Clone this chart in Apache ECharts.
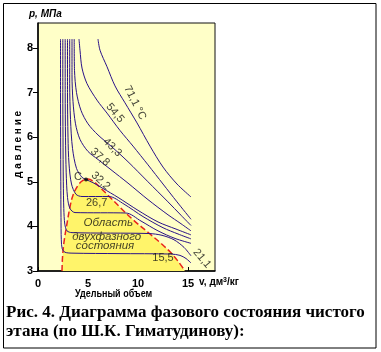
<!DOCTYPE html>
<html><head><meta charset="utf-8">
<script src="https://cdn.jsdelivr.net/npm/echarts@6/dist/echarts.min.js"></script>
<style>html,body{margin:0;padding:0;background:#fff}#c{width:381px;height:352px}</style>
</head><body><div id="c"></div>
<script>
// ---- data (specific volume v, dm3/kg ; pressure p, MPa) ----
const isoTemps = ['15,5','21,1','26,7','29,4','32,2','37,8','43,3','54,5','71,1'];
const iso15_5 = [[2.25,8.2],[2.25,7.0],[2.26,6.0],[2.28,5.0],[2.3,4.2],[2.33,3.7],[2.42,3.5],[2.7,3.42],[3.5,3.4],[8,3.39],[13.3,3.38],[14.2,3.35],[14.8,3.28],[15.3,3.18]];
const iso21_1 = [[2.48,8.2],[2.48,7.0],[2.5,6.0],[2.53,5.0],[2.58,4.4],[2.68,4.05],[2.9,3.9],[3.4,3.86],[11.1,3.84],[12.4,3.8],[13.6,3.7],[14.6,3.53],[15.3,3.34]];
const iso26_7 = [[2.72,8.2],[2.72,7.0],[2.75,6.0],[2.82,5.2],[2.95,4.65],[3.2,4.4],[3.7,4.31],[8.8,4.3],[10.3,4.12],[12,3.9],[13.7,3.73],[15.3,3.62]];
const iso29_4 = [[2.95,8.2],[2.95,7.0],[3.0,6.0],[3.1,5.4],[3.35,4.95],[3.8,4.72],[4.4,4.67],[7.1,4.67],[8.6,4.5],[10.5,4.22],[12.5,3.97],[14,3.83],[15.3,3.72]];
const iso32_2 = [[3.17,8.2],[3.17,7.2],[3.25,6.4],[3.45,5.75],[3.85,5.3],[4.4,5.1],[4.8,5.05],[5.5,4.98],[6.5,4.85],[8,4.65],[10,4.36],[12,4.1],[13.8,3.94],[15.3,3.81]];
const iso37_8 = [[3.4,8.2],[3.4,7.4],[3.5,6.8],[3.75,6.3],[4.2,5.95],[5,5.68],[6,5.5],[7.3,5.27],[9,4.97],[11,4.6],[13,4.26],[14.3,4.06],[15.3,3.9]];
const iso43_3 = [[3.62,8.2],[3.65,7.5],[3.85,7.0],[4.3,6.6],[5,6.3],[6,6.05],[7.3,5.8],[9,5.45],[11,5.0],[13,4.55],[14.3,4.25],[15.3,4.02]];
const iso54_5 = [[4.1,8.2],[4.2,7.95],[4.4,7.55],[4.9,7.2],[5.9,6.83],[6.9,6.54],[8.2,6.15],[9.5,5.8],[11,5.38],[12.5,4.95],[13.9,4.55],[15.3,4.16]];
const iso71_1 = [[6.0,8.2],[6.2,7.95],[6.9,7.58],[7.7,7.15],[8.7,6.77],[9.9,6.32],[11.2,5.8],[12.5,5.33],[13.9,4.95],[15.3,4.66]];
const dome = [[2.4,3.0],[2.45,3.3],[2.6,3.65],[2.85,4.0],[3.2,4.44],[3.5,4.7],[4.0,4.92],[4.5,5.03],[5.0,5.06],[5.6,5.0],[6.3,4.85],[7.0,4.7],[8.2,4.43],[9.5,4.15],[11.2,3.83],[12.3,3.62],[13.2,3.43],[14.0,3.22],[14.7,3.0]];
const criticalPoint = [4.8, 5.05];
const xTicks = [0,2.5,5,7.5,10,12.5,15];
const xTickLabels = [0,5,10,15];
const yTickLabels = [3,4,5,6,7,8];
// annotation texts anchored in data coordinates
const annotations = [
  {text:'71,1 °C', at:[9.7,6.77], rot:-63},
  {text:'54,5', at:[7.7,6.54], rot:-50},
  {text:'43,3', at:[7.43,5.77], rot:-45},
  {text:'37,8', at:[6.2,5.55], rot:-42},
  {text:'32,2', at:[6.27,5.02], rot:-42},
  {text:'26,7', at:[5.87,4.53], rot:0},
  {text:'21,1', at:[16.4,3.28], rot:-50},
  {text:'15,5', at:[12.5,3.3], rot:0}
];
const regionText = [
  {text:'Область', at:[7.03,4.07]},
  {text:'двухфазного', at:[6.87,3.76]},
  {text:'состояния', at:[6.7,3.56]}
];

const isoSets = [iso15_5, iso21_1, iso26_7, iso29_4, iso32_2, iso37_8, iso43_3, iso54_5, iso71_1];
const lineColor = '#2a1288';

const series = [];
series.push({
  type:'line', name:'dome', data: dome, showSymbol:false, smooth:0.35, z:1,
  lineStyle:{color:'#e8231c', width:1.5, type:[6,3]},
  areaStyle:{color:'#fff46a', opacity:1, origin:'start'}
});
isoSets.forEach((d,i)=>{
  series.push({type:'line', name:isoTemps[i], data:d, showSymbol:false, smooth:0.3, z:3,
    lineStyle:{color:lineColor, width:1}});
});
series.push({
  type:'scatter', z:5, symbolSize:0,
  data: annotations.map(a=>({value:a.at, label:{show:true, formatter:a.text, rotate:a.rot, position:'inside',
    color:'#111', fontSize:11, fontFamily:'Liberation Sans'}}))
});
series.push({
  type:'scatter', z:5, symbolSize:0,
  data: regionText.map(a=>({value:a.at, label:{show:true, formatter:a.text, position:'inside',
    color:'#111', fontSize:11.5, fontStyle:'italic', fontFamily:'Liberation Sans'}}))
});
series.push({
  type:'scatter', z:6, symbol:'circle', symbolSize:4, itemStyle:{color:'#000'},
  data:[{value:criticalPoint, label:{show:true, formatter:'С', position:'left', distance:2, offset:[0,-3],
    color:'#111', fontSize:11, fontFamily:'Liberation Sans'}}]
});

const chart = echarts.init(document.getElementById('c'), null, {renderer:'canvas'});
chart.setOption({
  animation:false,
  backgroundColor:'#fff',
  grid:{left:38, top:23, width:177, height:248, show:true, backgroundColor:'#ffffc8', borderColor:'#111', borderWidth:1},
  xAxis:{type:'value', min:0, max:17.7,
    axisLine:{lineStyle:{color:'#000', width:1.5}},
    axisTick:{customValues:xTicks, inside:true, length:4, lineStyle:{color:'#000'}},
    axisLabel:{customValues:xTickLabels, margin:7, color:'#000', fontWeight:'bold', fontSize:11, fontFamily:'Liberation Sans'},
    splitLine:{show:false}},
  yAxis:{type:'value', min:3, max:8.56,
    axisLine:{show:true, lineStyle:{color:'#000', width:1.5}},
    axisTick:{show:true, customValues:yTickLabels, inside:false, length:5, lineStyle:{color:'#000'}},
    axisLabel:{customValues:yTickLabels, margin:5, color:'#000', fontWeight:'bold', fontSize:11, fontFamily:'Liberation Sans'},
    splitLine:{show:false}},
  series: series,
  graphic:[
    {type:'rect', shape:{x:3.5,y:3.5,width:372.5,height:344.5}, style:{fill:null, stroke:'#000', lineWidth:1}},
    {type:'text', x:29, y:9, style:{text:'p, МПа', font:'italic bold 10px "Liberation Sans"', fill:'#000'}},
    {type:'text', x:13, y:178, rotation:Math.PI/2, style:{text:'д а в л е н и е', font:'bold 10px "Liberation Sans"', fill:'#000'}},
    {type:'text', x:199, y:277, style:{rich:{a:{font:'bold 10px "Liberation Sans"', fill:'#000'}, s:{font:'bold 7px "Liberation Sans"', fill:'#000', verticalAlign:'top'}}, text:'{a|v, дм}{s|3}{a|/кг}'}},
    {type:'text', x:75, y:289, scaleX:0.9, style:{text:'Удельный объем', font:'bold 10px "Liberation Sans"', fill:'#000'}},
    {type:'text', x:6, y:304, style:{text:'Рис. 4. Диаграмма фазового состояния чистого', font:'bold 17px "Liberation Serif"', fill:'#000'}},
    {type:'text', x:6, y:323, style:{text:'этана (по Ш.К. Гиматудинову):', font:'bold 17px "Liberation Serif"', fill:'#000'}}
  ]
});
</script></body></html>
